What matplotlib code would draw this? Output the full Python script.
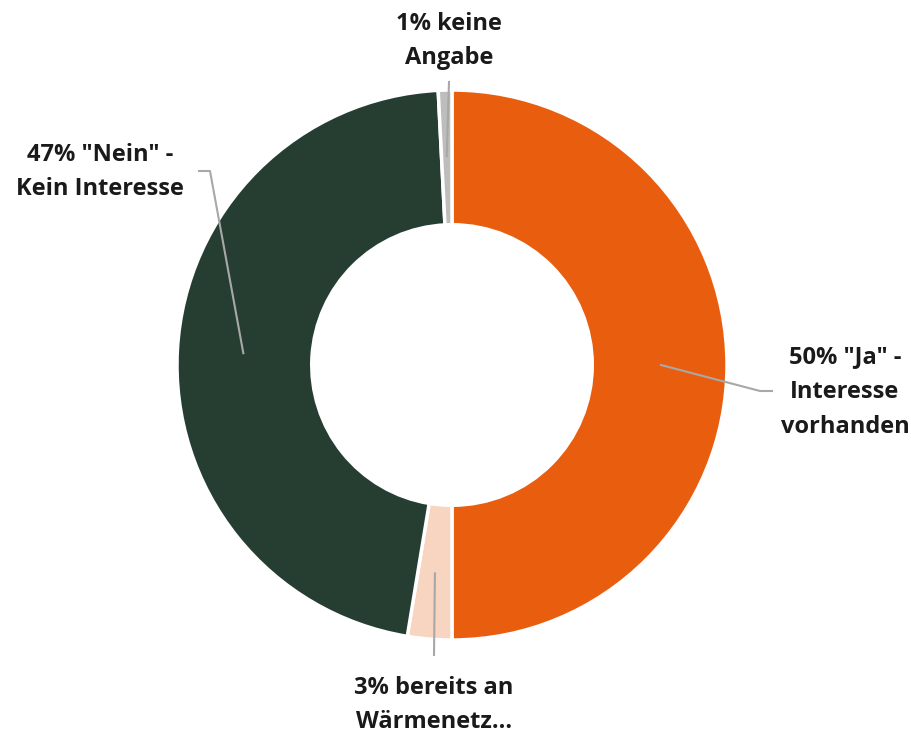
import numpy as np
import matplotlib.pyplot as plt

# Data
labels = ['50% "Ja" -\nInteresse\nvorhanden', '3% bereits an\nWärmenetz...',
          '47% "Nein" -\nKein Interesse', '1% keine\nAngabe']
shares = [50.0, 2.6, 46.6, 0.8]
colors = ['#E95D0F', '#F8D5C1', '#263E32', '#BDBDBD']

W, H = 912, 735
cx, cy, R = 452, 365, 275


def px(x, y):
    # pixel (from top-left) -> data coords (pie centre at 0, radius 1)
    return (x - cx) / R, (cy - y) / R


fig = plt.figure(figsize=(W / 100, H / 100), dpi=100)
ax = fig.add_axes([0, 0, 1, 1])

wedges, _ = ax.pie(shares, colors=colors, startangle=90, counterclock=False,
                   radius=1, wedgeprops=dict(width=0.49, edgecolor='white', linewidth=2.5))

ax.set_xlim(-cx / R, (W - cx) / R)
ax.set_ylim(-(H - cy) / R, cy / R)
ax.axis('off')

# leader lines: elbow and end points in pixels, text position in pixels
elbows = [(760, 391), (434, 655), (210, 171), (449, 82)]
ends = [(772, 391), (434, 655), (199, 171), (449, 82)]
text_pos = [(845, 392), (434, 705), (100, 172), (449, 41)]

for w, lab, el, en, tp in zip(wedges, labels, elbows, ends, text_pos):
    mid = np.deg2rad((w.theta1 + w.theta2) / 2)
    x0, y0 = 0.76 * np.cos(mid), 0.76 * np.sin(mid)
    ex, ey = px(*el)
    fx, fy = px(*en)
    ax.plot([x0, ex, fx], [y0, ey, fy], color='#A8A8A8', lw=1.5, zorder=3)
    tx, ty = px(*tp)
    ax.text(tx, ty, lab, ha='center', va='center', fontsize=17, fontweight='bold',
            family='Open Sans', color='#1A1A1A', linespacing=1.6)

fig.savefig('out.png', dpi=100)
